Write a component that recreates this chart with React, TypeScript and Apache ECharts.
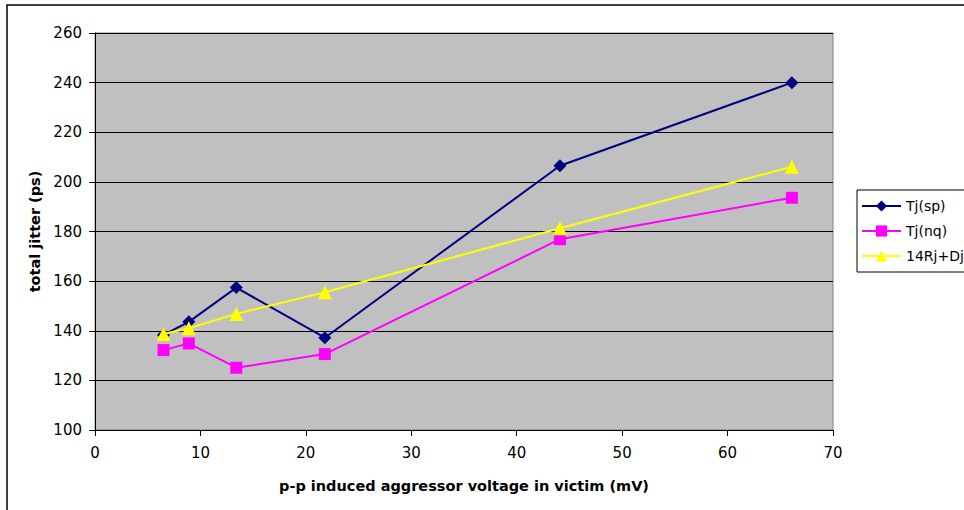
import React, { useEffect, useRef } from "react";
import * as echarts from "echarts";

const xValues = [6.5, 8.9, 13.4, 21.8, 44.1, 66.1];
const tjSp = [138.3, 143.6, 157.4, 137.2, 206.5, 240.0];
const tjNq = [132.2, 134.9, 125.1, 130.6, 176.9, 193.6];
const rjDj = [138.7, 141.0, 146.8, 155.5, 181.3, 206.1];
const seriesNames = ["Tj(sp)", "Tj(nq)", "14Rj+Dj"];

const FONT = "'DejaVu Sans', sans-serif";

export default function App() {
  const ref = useRef<HTMLDivElement>(null);
  useEffect(() => {
    if (!ref.current) return;
    const chart = echarts.init(ref.current, null, { renderer: "svg" });
    const pair = (ys: number[]) => xValues.map((x, i) => [x, ys[i]]);
    chart.setOption({
      animation: false,
      backgroundColor: "#ffffff",
      textStyle: { fontFamily: FONT },
      graphic: [
        {
          type: "rect",
          shape: { x: 7, y: 5, width: 1000, height: 1000 },
          style: { fill: "none", stroke: "#000", lineWidth: 1.5 },
          silent: true,
          z: -1,
        },
      ],
      grid: {
        left: 95,
        right: 131,
        top: 33,
        bottom: 80,
        show: true,
        backgroundColor: "#C0C0C0",
        borderColor: "#808080",
        borderWidth: 1,
      },
      legend: {
        orient: "vertical",
        left: 857,
        top: 190,
        padding: [9, 4, 9, 4],
        itemGap: 11,
        itemWidth: 39,
        itemHeight: 14,
        borderColor: "#000",
        borderWidth: 1,
        backgroundColor: "#fff",
        textStyle: { fontFamily: FONT, fontSize: 14, color: "#000" },
        data: seriesNames,
      },
      xAxis: {
        type: "value",
        min: 0,
        max: 70,
        interval: 10,
        name: "p-p induced aggressor voltage in victim (mV)",
        nameLocation: "middle",
        nameGap: 48,
        nameTextStyle: { fontFamily: FONT, fontSize: 14.5, fontWeight: "bold", color: "#000" },
        axisLine: { onZero: false, lineStyle: { color: "#000", width: 1 } },
        axisTick: { show: true, length: 6, lineStyle: { color: "#000" } },
        axisLabel: { fontFamily: FONT, fontSize: 15, color: "#000", margin: 15 },
        splitLine: { show: false },
      },
      yAxis: {
        type: "value",
        min: 100,
        max: 260,
        interval: 20,
        name: "total jitter (ps)",
        nameLocation: "middle",
        nameGap: 50,
        nameRotate: 90,
        nameTextStyle: { fontFamily: FONT, fontSize: 14.5, fontWeight: "bold", color: "#000" },
        axisLine: { show: true, lineStyle: { color: "#000", width: 1 } },
        axisTick: { show: true, length: 6, lineStyle: { color: "#000" } },
        axisLabel: { fontFamily: FONT, fontSize: 15, color: "#000", margin: 13 },
        splitLine: { show: true, lineStyle: { color: "#000", width: 1 } },
      },
      series: [
        {
          name: seriesNames[0],
          type: "line",
          data: pair(tjSp),
          symbol: "diamond",
          symbolSize: 13,
          lineStyle: { color: "#000080", width: 2 },
          itemStyle: { color: "#000080" },
          z: 3,
        },
        {
          name: seriesNames[1],
          type: "line",
          data: pair(tjNq),
          symbol: "rect",
          symbolSize: 12,
          lineStyle: { color: "#FF00FF", width: 2 },
          itemStyle: { color: "#FF00FF" },
          z: 4,
        },
        {
          name: seriesNames[2],
          type: "line",
          data: pair(rjDj),
          symbol: "triangle",
          symbolSize: 14,
          lineStyle: { color: "#FFFF00", width: 2 },
          itemStyle: { color: "#FFFF00" },
          z: 5,
        },
      ],
    });
    return () => chart.dispose();
  }, []);
  return (
    <div
      ref={ref}
      style={{ position: "fixed", left: 0, top: 0, width: 964, height: 510 }}
    />
  );
}
